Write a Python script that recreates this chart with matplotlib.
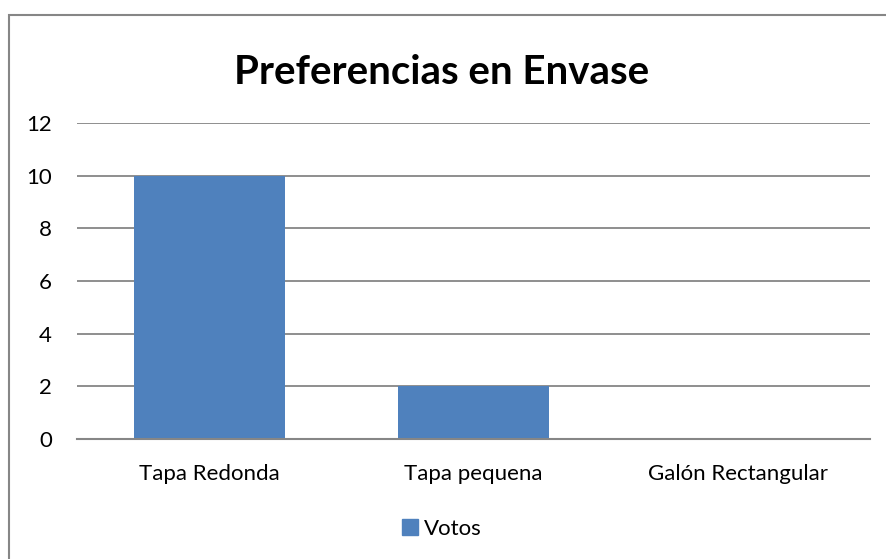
import matplotlib
matplotlib.use("Agg")
import matplotlib.pyplot as plt
from matplotlib.patches import Rectangle, Patch

categories = ["Tapa Redonda", "Tapa pequena", "Galón Rectangular"]
votos = [10, 2, 0]
yticks = [0, 2, 4, 6, 8, 10, 12]

W, H = 886, 559
fig = plt.figure(figsize=(W/100, H/100), dpi=100)
plt.rcParams['font.family'] = ['Lato', 'DejaVu Sans']

# outer chart border (cut off at right/bottom)
fig.patches.append(Rectangle((9/W, -0.05), 1.2, (H-15)/H + 0.05, transform=fig.transFigure,
                             fill=False, edgecolor='#868686', linewidth=1.5))

left, right = 77/W, 870/W
top, bottom = 1 - 123/H, 1 - 439/H
ax = fig.add_axes([left, bottom, right-left, top-bottom])
x = range(len(categories))
ax.bar(x, votos, width=0.57, color='#4F81BD', zorder=3, label='Votos')
ax.set_xlim(-0.5, 2.5)
ax.set_ylim(0, 12)
ax.set_yticks(yticks)
ax.set_yticklabels([str(t) for t in yticks], fontsize=16)
ax.set_xticks(list(x))
ax.set_xticklabels(categories, fontsize=16)
ax.grid(axis='y', color='#868686', linewidth=1.3, zorder=0)
for s in ['top', 'right', 'left']:
    ax.spines[s].set_visible(False)
ax.spines['bottom'].set_color('#868686')
ax.spines['bottom'].set_linewidth(1.5)
ax.spines['bottom'].set_zorder(4)
ax.tick_params(axis='both', length=0)
ax.tick_params(axis='y', pad=18)
ax.tick_params(axis='x', pad=18)

fig.text(442/W, 1 - 72/H, "Preferencias en Envase", ha='center', va='center',
         fontsize=29, fontweight='bold')

fig.legend(handles=[Patch(color='#4F81BD', label='Votos')], loc='center',
           bbox_to_anchor=(442/W, 1 - 529/H), frameon=False, fontsize=16,
           handlelength=0.7, handleheight=0.7, handletextpad=0.3)

fig.savefig("out.png", dpi=100)
